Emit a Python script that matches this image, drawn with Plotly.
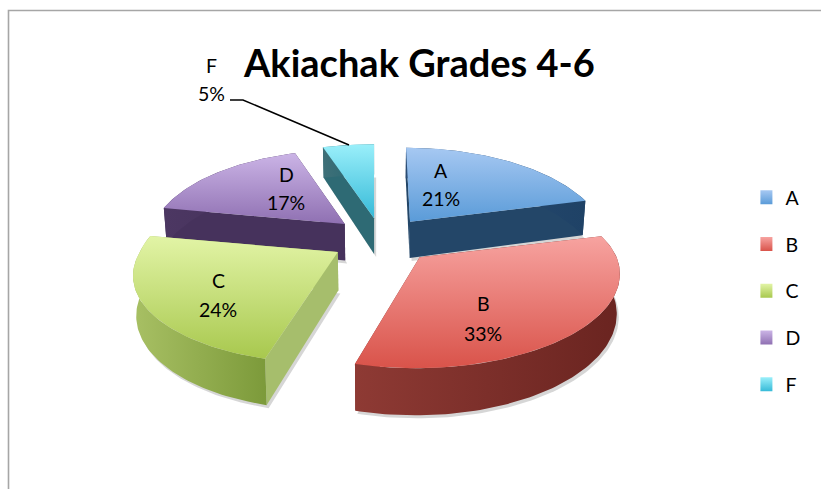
import math
import plotly.graph_objects as go

categories = ["A", "B", "C", "D", "F"]
values = [21, 33, 24, 17, 5]
title_text = "Akiachak Grades 4-6"

top_colors = [("#A6C8F2", "#5A9BD8"), ("#F7A3A0", "#D9534A"), ("#E2F4A6", "#A8C84E"),
              ("#CBB4E6", "#8F70B2"), ("#9AEFFA", "#36BAD8")]
rim_colors = [("#2A4C74", "#1F4266"), ("#8E3A34", "#6A2420"), ("#A8C064", "#7C9A3A"),
              ("#4C3762", "#43305A"), ("#3F7078", "#1F6470")]
edge_colors = ["#234668", "#7A2C28", "#A6BE6C", "#46325C", "#2E6A74"]

CX, CY = 380, 236
RX, RY, K = 197, 88.8, 0.2
explode_x = [49, 56, 50, 47, 38]
wedge_scale = [0.97, 1.0, 1.005, 0.97, 1.0]
front_skew = [0, 4, 12, 0, 0]
back_skew = [4, 0, 0, 0, 0]
EY_BACK, EY_FRONT = 18, 30


def pt(apex, theta, i):
    u, v = math.sin(theta), math.cos(theta)
    d = 1 + K * v
    x = apex[0] + wedge_scale[i] * RX * u / d - front_skew[i] * max(0, -v) - back_skew[i] * max(0, v)
    return x, apex[1] - RY * v / d


def drop(p):
    t = 36 + (p[1] - 220) * 0.075
    return CX + (p[0] - CX) * 0.987, p[1] + t


def poly(points, c1, c2, kind="vertical"):
    xs = [p[0] for p in points] + [points[0][0]]
    ys = [p[1] for p in points] + [points[0][1]]
    return go.Scatter(x=xs, y=ys, mode="lines", line=dict(width=0), fill="toself",
                      fillgradient=dict(type=kind, colorscale=[[0, c1], [1, c2]]),
                      hoverinfo="skip", showlegend=False)


total = sum(values)
wedges = {}
start = 0.0
for i, val in enumerate(values):
    a0 = start
    a1 = start + val / total * 2 * math.pi
    mid = (a0 + a1) / 2
    mv = math.cos(mid)
    apex = (CX + explode_x[i] * math.sin(mid), CY - (EY_BACK if mv > 0 else EY_FRONT) * mv)
    n = max(12, int(val * 3))
    rim = [pt(apex, a0 + (a1 - a0) * j / n, i) for j in range(n + 1)]
    wedges[i] = (apex, rim)
    start = a1

fig = go.Figure()
for i in [0, 3, 4, 2, 1]:
    apex, rim = wedges[i]
    rim_low = [drop(p) for p in rim]
    shadow = [(p[0] + 2, p[1] + 3) for p in rim_low] + [(drop(apex)[0] + 2, drop(apex)[1] + 3)]
    fig.add_trace(go.Scatter(x=[p[0] for p in shadow] + [shadow[0][0]],
                             y=[p[1] for p in shadow] + [shadow[0][1]],
                             mode="lines", line=dict(width=0), fill="toself",
                             fillcolor="rgba(90,90,90,0.25)", hoverinfo="skip", showlegend=False))
    for corner in (rim[0], rim[-1]):
        fig.add_trace(poly([apex, corner, drop(corner), drop(apex)],
                           edge_colors[i], edge_colors[i], "horizontal"))
    fig.add_trace(poly(rim + rim_low[::-1], rim_colors[i][0], rim_colors[i][1], "horizontal"))
    fig.add_trace(poly([apex] + rim, top_colors[i][1], top_colors[i][0], "vertical"))

for i, cat in enumerate(categories):
    fig.add_trace(go.Scatter(x=[None], y=[None], mode="markers", name=cat, legendgroup=cat,
                             marker=dict(symbol="square", size=14, color=top_colors[i][0],
                                         gradient=dict(type="vertical", color=top_colors[i][1]))))

label_pos = [(441, 170, 198), (483, 303, 333), (218, 280, 309), (286, 174, 202), (211, 65, 93)]
for cat, val, (lx, ly1, ly2) in zip(categories, values, label_pos):
    for txt, ly in ((cat, ly1), (f"{val}%", ly2)):
        fig.add_annotation(x=lx, y=ly, text=txt, showarrow=False, xref="x", yref="y",
                           font=dict(family="Lato, Carlito, sans-serif", size=19.5, color="#000000"))

fig.add_annotation(x=419, y=62, text=f"<b>{title_text}</b>", showarrow=False, xref="x", yref="y",
                   font=dict(family="Lato, Carlito, sans-serif", size=38, color="#000000"))

fig.update_layout(
    width=821, height=489, autosize=False,
    margin=dict(l=0, r=0, t=0, b=0),
    paper_bgcolor="white", plot_bgcolor="white",
    xaxis=dict(range=[0, 821], visible=False, fixedrange=True),
    yaxis=dict(range=[489, 0], visible=False, fixedrange=True),
    legend=dict(x=0.9262, y=0.6357, xanchor="left", yanchor="top", tracegroupgap=18.4,
                bgcolor="rgba(0,0,0,0)", itemwidth=30, indentation=-15,
                font=dict(family="Lato, Carlito, sans-serif", size=19.5, color="#000000")),
    shapes=[
        dict(type="path", xref="x", yref="y", path="M 8.5 489 L 8.5 10.5 L 821 10.5",
             line=dict(color="#A6A6A6", width=1.6)),
        dict(type="path", xref="x", yref="y", path="M 230 100 L 243 100 L 349 145",
             line=dict(color="#000000", width=1.5)),
    ],
)
fig.write_html("out.html", post_script="document.body.style.margin='0';",
               config={"displayModeBar": False})
